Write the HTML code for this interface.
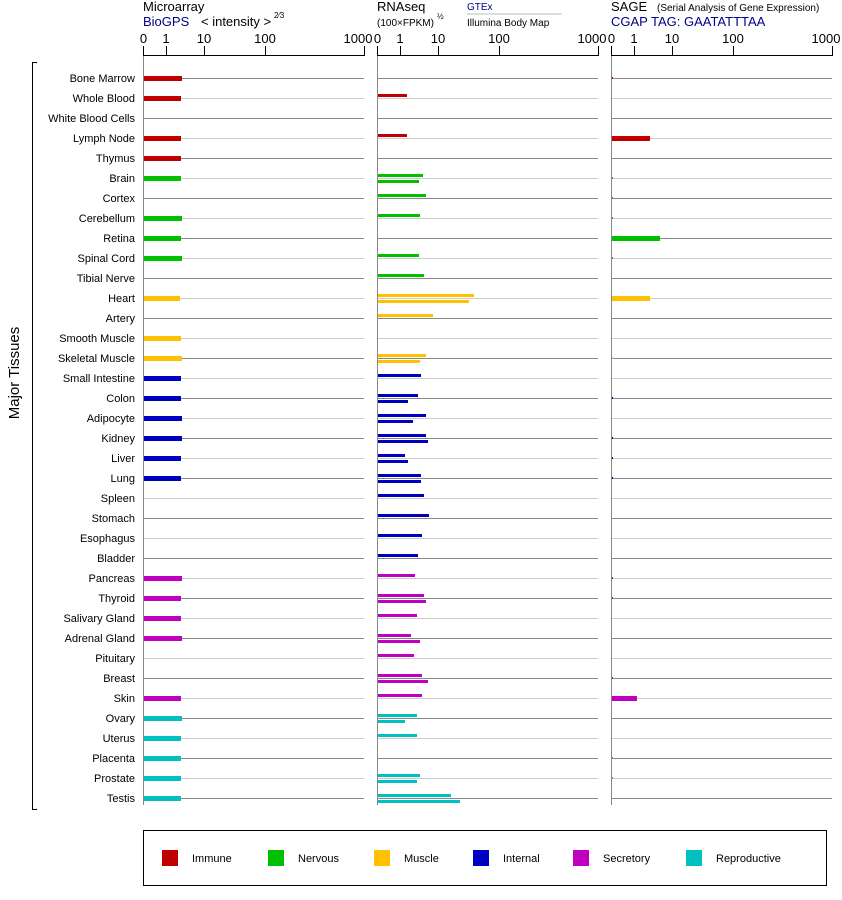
<!DOCTYPE html>
<html><head><style>body{margin:0;background:#fff}svg{display:block;font-family:"Liberation Sans",sans-serif}</style></head>
<body>
<svg id="s" width="842" height="900" xmlns="http://www.w3.org/2000/svg">
<rect width="842" height="900" fill="#fff"/>
<text x="143" y="11" font-size="13">Microarray</text>
<text x="143" y="26" font-size="13" fill="#00008b">BioGPS</text>
<text x="201" y="26" font-size="13">&lt; intensity &gt;</text>
<text x="274" y="18" font-size="8">2⁄3</text>
<text x="377" y="11" font-size="13">RNAseq</text>
<text x="377" y="26" font-size="10">(100×FPKM)</text>
<text x="437" y="19" font-size="8">½</text>
<text x="467" y="10" font-size="10" fill="#00008b">GTEx</text>
<line x1="467" y1="14" x2="562" y2="14" stroke="#bbb"/>
<text x="467" y="26" font-size="10">Illumina Body Map</text>
<text x="611" y="11" font-size="13">SAGE</text>
<text x="657" y="11" font-size="10">(Serial Analysis of Gene Expression)</text>
<text x="611" y="26" font-size="13" fill="#00008b">CGAP TAG: GAATATTTAA</text>
<line x1="32.5" y1="62" x2="32.5" y2="810" stroke="#000"/>
<line x1="32" y1="62.5" x2="37" y2="62.5" stroke="#000"/>
<line x1="32" y1="809.5" x2="37" y2="809.5" stroke="#000"/>
<text transform="translate(19,373) rotate(-90)" font-size="15" text-anchor="middle">Major Tissues</text>
<rect x="143.5" y="830.5" width="683" height="55" fill="none" stroke="#000"/>
<g id="g"></g>
</svg>
<script>
var g=document.getElementById('g'),h='';
var names=["Bone Marrow","Whole Blood","White Blood Cells","Lymph Node","Thymus","Brain","Cortex","Cerebellum","Retina","Spinal Cord","Tibial Nerve","Heart","Artery","Smooth Muscle","Skeletal Muscle","Small Intestine","Colon","Adipocyte","Kidney","Liver","Lung","Spleen","Stomach","Esophagus","Bladder","Pancreas","Thyroid","Salivary Gland","Adrenal Gland","Pituitary","Breast","Skin","Ovary","Uterus","Placenta","Prostate","Testis"];
var C={r:"#c00000",g:"#00c000",o:"#ffc000",b:"#0000c0",m:"#c000c0",c:"#00c0c0"};
var col="rrrrr"+"gggggg"+"oooo"+"bbbbbbbbbb"+"mmmmmmm"+"ccccc";
var ma=[182,181,0,181,181,181,0,182,181,182,0,180,0,181,182,181,181,182,182,181,181,0,0,0,0,182,181,181,182,0,0,181,182,181,181,181,181];
var rna=[[],[407],[378],[407],[],[423,419],[426],[420],[],[419],[424],[474,469],[433],[],[426,420],[421],[418,408],[426,413],[426,428],[405,408],[421,421],[424],[429],[422],[418],[415],[424,426],[417],[411,420],[414],[422,428],[422],[417,405],[417],[],[420,417],[451,460]];
var sage=[613,0,0,650,0,612,612,612,660,612,0,650,0,0,612,0,612,0,612,612,612,0,0,0,0,612,612,0,0,0,612,637,0,0,612,612,0];
var axes=[[143.5,[166,204,265,364],364],[377.5,[400,438,499,598],598],[611.5,[634,672,733,832],832]];
axes.forEach(function(a){var x0=a[0];
h+='<line x1="'+x0+'" y1="56" x2="'+x0+'" y2="805" stroke="#888"/>';
h+='<line x1="'+x0+'" y1="55.5" x2="'+a[2]+'" y2="55.5" stroke="#000"/>';
h+='<line x1="'+x0+'" y1="46" x2="'+x0+'" y2="56" stroke="#000"/>';
h+='<text x="'+x0+'" y="43" font-size="13" text-anchor="middle">0</text>';
var lb=["1","10","100","1000"];
a[1].forEach(function(t,i){h+='<line x1="'+(t+.5)+'" y1="46" x2="'+(t+.5)+'" y2="56" stroke="#000"/><text x="'+(i==3?t-6:t)+'" y="43" font-size="13" text-anchor="middle">'+lb[i]+'</text>';});
});
names.forEach(function(n,i){var y=78+20*i,c=C[col[i]],lc=i%2?"#ccc":"#888";
h+='<text x="135" y="'+(y+4)+'" font-size="11" text-anchor="end">'+n+'</text>';
[[144,364],[378,598],[612,832]].forEach(function(r){h+='<line x1="'+r[0]+'" y1="'+(y+.5)+'" x2="'+r[1]+'" y2="'+(y+.5)+'" stroke="'+lc+'"/>';});
if(ma[i])h+='<rect x="144" y="'+(y-2)+'" width="'+(ma[i]-144)+'" height="5" fill="'+c+'"/>';
rna[i].forEach(function(v,k){h+='<rect x="378" y="'+(y-4+6*k)+'" width="'+(v-378)+'" height="3" fill="'+c+'"/>';});
if(sage[i]){var w=sage[i]-612;h+='<rect x="612" y="'+(w>3?y-2:y-1)+'" width="'+Math.max(w,1)+'" height="'+(w>3?5:2)+'" fill="'+c+'"/>';}
});
var L=[["Immune","r",162],["Nervous","g",268],["Muscle","o",374],["Internal","b",473],["Secretory","m",573],["Reproductive","c",686]];
L.forEach(function(l){h+='<rect x="'+l[2]+'" y="850" width="16" height="16" fill="'+C[l[1]]+'"/><text x="'+(l[2]+30)+'" y="862" font-size="11">'+l[0]+'</text>';});
g.innerHTML=h;
</script>
</body></html>
